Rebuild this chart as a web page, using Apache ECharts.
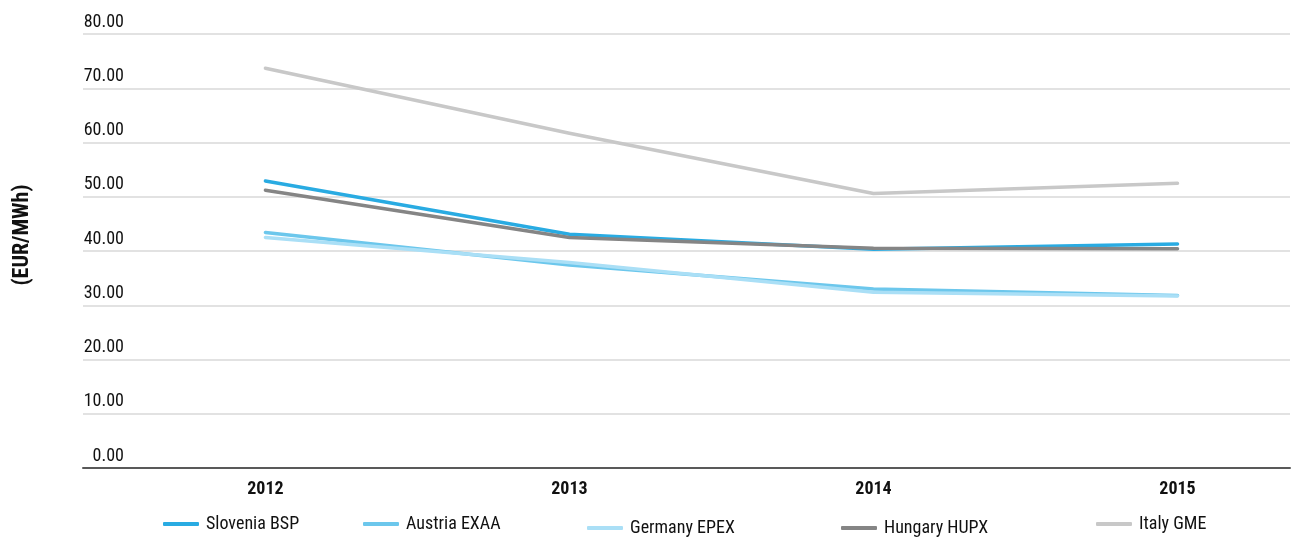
<!DOCTYPE html>
<html>
<head>
<meta charset="utf-8">
<script src="https://cdn.jsdelivr.net/npm/echarts@6/dist/echarts.min.js"></script>
<style>
html, body { margin: 0; padding: 0; background: #fff; }
#price_chart { width: 1297px; height: 538px; }
</style>
</head>
<body>
<div id="price_chart"></div>
<script>
var years = [2012, 2013, 2014, 2015];
var slovenia_bsp = [52.9, 43.1, 40.3, 41.3];
var austria_exaa = [43.4, 37.4, 33.0, 31.8];
var germany_epex = [42.5, 37.9, 32.4, 31.7];
var hungary_hupx = [51.2, 42.5, 40.5, 40.4];
var italy_gme = [73.7, 61.7, 50.6, 52.5];
var series_names = ['Slovenia BSP', 'Austria EXAA', 'Germany EPEX', 'Hungary HUPX', 'Italy GME'];
var series_colors = ['#29abe2', '#6cc7ec', '#aadff6', '#858585', '#c8c8c8'];

var font_name = "'Liberation Sans Narrow', 'Roboto Condensed', 'Open Sans Condensed', 'DejaVu Sans Condensed', sans-serif";

function pairs(values){
	var out = [];
	for(var i = 0; i < years.length; i++){
		out.push([years[i], values[i]]);
	}
	return out;
}

function make_series(name, values, color){
	return {
		name: name,
		type: 'line',
		data: pairs(values),
		symbol: 'none',
		lineStyle: { color: color, width: 3.5, cap: 'round', join: 'round' },
		itemStyle: { color: color },
		animation: false
	};
}

function make_legend(name, left, top){
	return {
		data: [name],
		left: left,
		top: top,
		icon: 'roundRect',
		itemWidth: 36,
		itemHeight: 4,
		itemGap: 0,
		textStyle: { fontFamily: font_name, fontSize: 18, color: '#111', padding: [0, 0, 0, 2] }
	};
}

function chart_prices(){
	var price_chart = echarts.init(document.getElementById("price_chart"));
	var all_values = [slovenia_bsp, austria_exaa, germany_epex, hungary_hupx, italy_gme];
	var series = [];
	for(var i = 0; i < series_names.length; i++){
		series.push(make_series(series_names[i], all_values[i], series_colors[i]));
	}
	var option = {
		backgroundColor: '#fff',
		animation: false,
		grid: { left: 83, right: 7, top: 34, bottom: 70 },
		legend: [
			make_legend(series_names[0], 158, 510),
			make_legend(series_names[1], 358, 510),
			make_legend(series_names[2], 582, 514),
			make_legend(series_names[3], 836, 514),
			make_legend(series_names[4], 1091, 510)
		],
		xAxis: {
			type: 'value',
			min: 2011.4,
			max: 2015.37,
			axisLine: { show: true, lineStyle: { color: '#595959', width: 2 } },
			axisTick: { show: false },
			splitLine: { show: false },
			axisLabel: {
				customValues: years,
				formatter: function(v){ return String(v); },
				fontFamily: font_name,
				fontWeight: 'bold',
				fontSize: 18,
				color: '#111',
				margin: 12
			}
		},
		yAxis: {
			type: 'value',
			min: 0,
			max: 80,
			interval: 10,
			name: '(EUR/MWh)',
			nameLocation: 'middle',
			nameGap: 50,
			nameTextStyle: {
				fontFamily: font_name,
				fontWeight: 'bold',
				fontSize: 22,
				color: '#111',
				padding: [0, 0, 0, 32]
			},
			axisLine: { show: false },
			axisTick: { show: false },
			splitLine: { show: true, lineStyle: { color: '#d9d9d9', width: 1.5 } },
			axisLabel: {
				inside: true,
				margin: 41,
				align: 'right',
				verticalAlign: 'bottom',
				padding: [0, 0, 3, 0],
				fontFamily: font_name,
				fontSize: 18,
				color: '#111',
				formatter: function(v){ return v.toFixed(2); }
			}
		},
		series: series
	};
	price_chart.setOption(option);
	window.addEventListener("resize", function(){
		price_chart.resize();
	});
}

chart_prices();
</script>
</body>
</html>
